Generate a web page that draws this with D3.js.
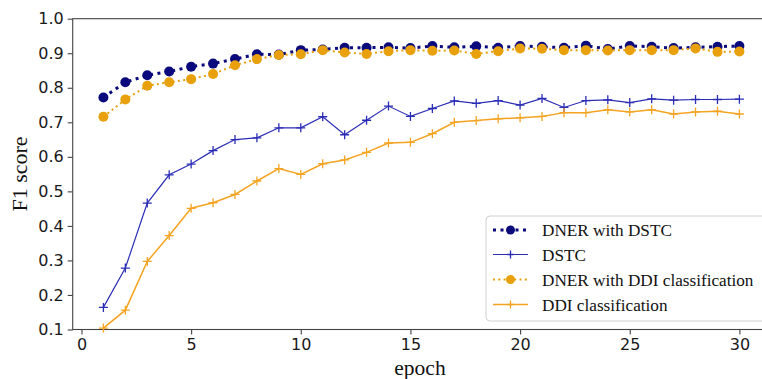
<!DOCTYPE html>
<html>
<head>
<meta charset="utf-8">
<script src="https://cdn.jsdelivr.net/npm/d3@7"></script>
<style>
  html, body { margin: 0; padding: 0; background: #fff; }
  svg { display: block; }
</style>
</head>
<body>
<svg id="chart" width="762" height="379"></svg>
<script>
const epochs = d3.range(1, 31);
const dnerDSTC = [0.772,0.816,0.836,0.847,0.861,0.870,0.883,0.897,0.896,0.909,
                  0.911,0.916,0.916,0.917,0.915,0.921,0.917,0.920,0.916,0.921,
                  0.919,0.916,0.922,0.912,0.921,0.919,0.915,0.917,0.919,0.921];
const dstc = [0.164,0.278,0.466,0.548,0.579,0.618,0.650,0.655,0.684,0.684,
              0.716,0.664,0.706,0.747,0.717,0.740,0.762,0.755,0.763,0.750,
              0.769,0.743,0.763,0.765,0.757,0.768,0.764,0.766,0.766,0.767];
const dnerDDI = [0.716,0.766,0.806,0.816,0.825,0.840,0.865,0.883,0.895,0.897,
                 0.909,0.902,0.898,0.906,0.909,0.907,0.908,0.898,0.906,0.914,
                 0.913,0.909,0.909,0.908,0.909,0.909,0.909,0.914,0.904,0.905];
const ddi = [0.104,0.156,0.297,0.372,0.451,0.467,0.491,0.530,0.566,0.549,
             0.580,0.591,0.613,0.640,0.642,0.667,0.700,0.705,0.710,0.713,
             0.717,0.728,0.728,0.736,0.730,0.736,0.724,0.730,0.732,0.724];
const xTicks = [0, 5, 10, 15, 20, 25, 30];
const yTicks = [0.1,0.2,0.3,0.4,0.5,0.6,0.7,0.8,0.9,1.0];
const seriesNames = ["DNER with DSTC", "DSTC", "DNER with DDI classification", "DDI classification"];

const series = [
  {name: seriesNames[0], values: dnerDSTC, color: "#0a0a7c", width: 3, dash: "3,4.5", marker: "dot", r: 5},
  {name: seriesNames[1], values: dstc, color: "#2b2db5", width: 1.2, dash: null, marker: "plus", r: 4.5},
  {name: seriesNames[2], values: dnerDDI, color: "#e8a00c", width: 2, dash: "2,3.3", marker: "dot", r: 5},
  {name: seriesNames[3], values: ddi, color: "#f4a422", width: 1.5, dash: null, marker: "plus", r: 4.5}
];

const svg = d3.select("#chart");
const x = d3.scaleLinear().domain([-0.4, 31.45]).range([72.7, 771.2]);
const y = d3.scaleLinear().domain([0.1, 1.0]).range([329.5, 18.7]);
const spine = "#444";

svg.append("rect").attr("x", x.range()[0]).attr("y", y.range()[1])
  .attr("width", x.range()[1] - x.range()[0]).attr("height", y.range()[0] - y.range()[1])
  .attr("fill", "none").attr("stroke", spine).attr("stroke-width", 1.1);

const xAxis = svg.append("g").attr("transform", `translate(0,${y.range()[0]})`)
  .call(d3.axisBottom(x).tickValues(xTicks).tickSize(5).tickPadding(4).tickFormat(d3.format("d")));
const yAxis = svg.append("g").attr("transform", `translate(${x.range()[0]},0)`)
  .call(d3.axisLeft(y).tickValues(yTicks).tickSize(5).tickPadding(4).tickFormat(d3.format(".1f")));
[xAxis, yAxis].forEach(g => {
  g.select(".domain").remove();
  g.selectAll(".tick line").attr("stroke", spine).attr("stroke-width", 1.1);
  g.selectAll(".tick text").attr("font-family", "DejaVu Sans").attr("font-size", 16).attr("fill", "#1a1a1a");
});

const line = d3.line().x((d, i) => x(epochs[i])).y(d => y(d));
series.forEach(s => {
  svg.append("path").datum(s.values).attr("d", line)
    .attr("fill", "none").attr("stroke", s.color).attr("stroke-width", s.width)
    .attr("stroke-dasharray", s.dash).attr("stroke-linecap", s.dash ? "butt" : "round");
  const g = svg.append("g");
  if (s.marker === "dot") {
    g.selectAll("circle").data(s.values).join("circle")
      .attr("cx", (d, i) => x(epochs[i])).attr("cy", d => y(d)).attr("r", s.r).attr("fill", s.color);
  } else {
    g.selectAll("path").data(s.values).join("path")
      .attr("d", (d, i) => {
        const cx = x(epochs[i]), cy = y(d), r = s.r;
        return `M${cx - r},${cy}H${cx + r}M${cx},${cy - r}V${cy + r}`;
      })
      .attr("stroke", s.color).attr("stroke-width", 1.3);
  }
});

svg.append("text").attr("x", 420).attr("y", 375).attr("text-anchor", "middle")
  .attr("font-family", "Liberation Serif").attr("font-size", 21.5).attr("fill", "#111").text("epoch");
svg.append("text").attr("transform", "translate(27,174) rotate(-90)").attr("text-anchor", "middle")
  .attr("font-family", "Liberation Serif").attr("font-size", 22).attr("fill", "#111").text("F1 score");

const lg = svg.append("g");
lg.append("rect").attr("x", 486).attr("y", 216).attr("width", 290).attr("height", 105)
  .attr("rx", 4).attr("fill", "#fff").attr("fill-opacity", 0.85).attr("stroke", "#d0d0d0");
const rowY = [230, 254.5, 279.5, 304.5];
series.forEach((s, i) => {
  const cy = rowY[i];
  lg.append("line").attr("x1", 493).attr("x2", 528).attr("y1", cy).attr("y2", cy)
    .attr("stroke", s.color).attr("stroke-width", s.width).attr("stroke-dasharray", s.dash);
  if (s.marker === "dot") {
    lg.append("circle").attr("cx", 510.5).attr("cy", cy).attr("r", 4.5).attr("fill", s.color);
  } else {
    lg.append("path").attr("d", `M${510.5 - 3},${cy}H${510.5 + 3}M${510.5},${cy - 4}V${cy + 4}`)
      .attr("stroke", s.color).attr("stroke-width", 1.3);
  }
  lg.append("text").attr("x", 542).attr("y", cy + 6).attr("font-family", "Liberation Serif")
    .attr("font-size", 17.2).attr("fill", "#111").text(s.name);
});
</script>
</body>
</html>
